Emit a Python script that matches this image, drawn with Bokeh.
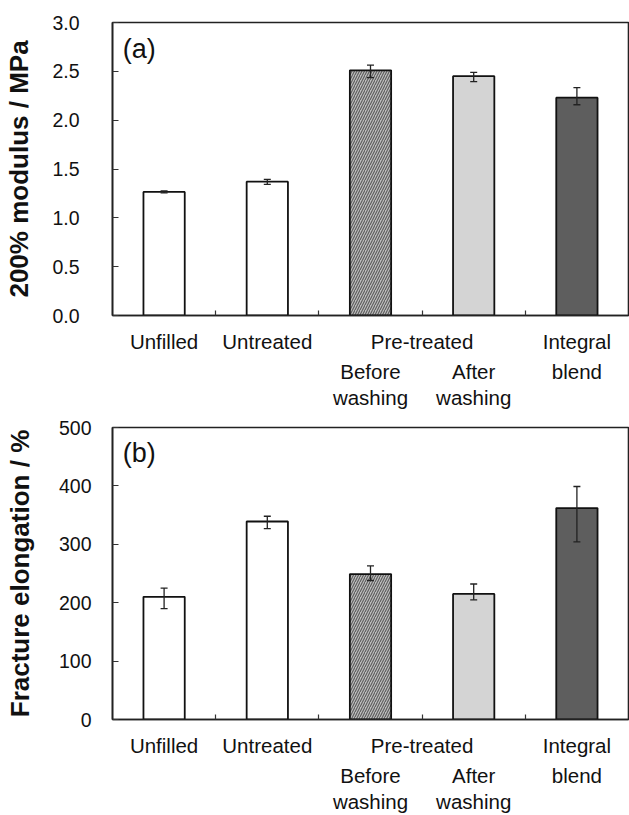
from bokeh.plotting import figure
from bokeh.models import (ColumnDataSource, Whisker, TeeHead, FixedTicker, LinearAxis,
                          Label, Range1d, NumeralTickFormatter)
from bokeh.layouts import column
from bokeh.embed import file_html
from bokeh.resources import INLINE

# ---- data ----
categories = ["Unfilled", "Untreated", "Before washing", "After washing", "Integral blend"]
modulus = [1.265, 1.37, 2.51, 2.45, 2.23]              # 200% modulus / MPa
modulus_upper = [1.275, 1.393, 2.564, 2.49, 2.334]     # error bar ends
modulus_lower = [1.255, 1.343, 2.436, 2.395, 2.158]
elongation = [210, 339, 249, 215, 362]                 # fracture elongation / %
elongation_upper = [225, 348, 263, 232, 399]
elongation_lower = [190, 327, 238, 205, 304]
modulus_ticks = [0, 0.5, 1.0, 1.5, 2.0, 2.5, 3.0]
elongation_ticks = [0, 100, 200, 300, 400, 500]
row1_labels = {1: "Unfilled", 2: "Untreated", 3.5: "Pre-treated", 5: "Integral"}
row2_labels = {3: "Before\nwashing", 4: "After\nwashing", 5: "blend"}

bar_fill = ["white", "white", "#bdbdbd", "#d4d4d4", "#5e5e5e"]
bar_hatch = [" ", " ", "/", " ", " "]

FONT = "Liberation Sans"
TXT = "#111111"


def make_panel(values, upper, lower, ymax, yticks, fmt, ylabel, tag, tag_y, height,
               top_border, bottom_border, ylab_standoff, axlab_standoff):
    xs = list(range(1, len(values) + 1))
    src = ColumnDataSource(dict(
        x=xs, top=values, fill=bar_fill, hatch=bar_hatch, upper=upper, lower=lower,
    ))
    p = figure(width=629, height=height, output_backend="svg", toolbar_location=None,
               x_range=Range1d(0.5, len(values) + 0.5), y_range=Range1d(0, ymax),
               min_border_left=112, min_border_right=1,
               min_border_top=top_border, min_border_bottom=bottom_border)
    p.grid.visible = False
    p.outline_line_color = "#222222"
    p.outline_line_width = 1.6
    p.background_fill_color = "white"
    p.border_fill_color = "white"

    p.vbar(x="x", top="top", width=0.4, bottom=0, source=src, fill_color="fill",
           line_color="#111111", line_width=1.8, hatch_pattern="hatch",
           hatch_color="#5a5a5a", hatch_scale=5, hatch_weight=1.1)

    w = Whisker(base="x", upper="upper", lower="lower", source=src,
                line_color="#222222", line_width=1.3, level="annotation",
                upper_head=TeeHead(size=7, line_color="#222222", line_width=1.3),
                lower_head=TeeHead(size=7, line_color="#222222", line_width=1.3))
    p.add_layout(w)

    # main x axis: first row of labels, boundary ticks drawn as inward minor ticks
    xa = p.xaxis[0]
    xa.ticker = FixedTicker(ticks=list(row1_labels.keys()),
                            minor_ticks=[i + 0.5 for i in xs[:-1]])
    xa.major_label_overrides = row1_labels
    xa.major_tick_line_color = None
    xa.major_tick_in = 0
    xa.major_tick_out = 0
    xa.minor_tick_in = 5
    xa.minor_tick_out = 0
    xa.minor_tick_line_color = "#333333"
    xa.minor_tick_line_width = 1.2
    xa.major_label_standoff = 14
    xa.major_label_text_font = FONT
    xa.major_label_text_font_size = "20.5px"
    xa.major_label_text_color = TXT
    xa.axis_line_color = "#222222"
    xa.axis_line_width = 1.6

    # second and third rows of labels
    la = LinearAxis(ticker=FixedTicker(ticks=list(row2_labels.keys())),
                    major_label_overrides=row2_labels,
                    axis_line_color=None, major_tick_line_color=None,
                    minor_tick_line_color=None, major_tick_in=0, major_tick_out=0,
                    major_label_standoff=4,
                    major_label_text_font=FONT,
                    major_label_text_font_size="20.5px",
                    major_label_text_color=TXT,
                    major_label_text_line_height=1.15)
    p.add_layout(la, "below")

    ya = p.yaxis[0]
    ya.ticker = FixedTicker(ticks=yticks)
    ya.formatter = NumeralTickFormatter(format=fmt)
    ya.major_tick_in = 6
    ya.major_tick_out = 0
    ya.minor_tick_line_color = None
    ya.major_tick_line_color = "#333333"
    ya.major_tick_line_width = 1.2
    ya.axis_line_color = "#222222"
    ya.axis_line_width = 1.6
    ya.major_label_standoff = ylab_standoff
    ya.major_label_text_font = FONT
    ya.major_label_text_font_size = "19.5px"
    ya.major_label_text_color = TXT
    ya.axis_label = ylabel
    ya.axis_label_text_font = FONT
    ya.axis_label_text_font_size = "26px"
    ya.axis_label_text_font_style = "bold"
    ya.axis_label_text_color = TXT
    ya.axis_label_standoff = axlab_standoff

    p.add_layout(Label(x=0.6, y=tag_y, text=tag, text_font=FONT, text_font_size="27px",
                       text_baseline="middle", text_color=TXT))
    return p


pa = make_panel(modulus, modulus_upper, modulus_lower, 3.0, modulus_ticks, "0.0",
                "200% modulus / MPa", "(a)", 2.73, 412, 22, 97, 33, 15)
pb = make_panel(elongation, elongation_upper, elongation_lower, 500, elongation_ticks, "0",
                "Fracture elongation / %", "(b)", 456, 403, 15, 95, 21, 21)

layout = column(pa, pb)
open("out.html", "w").write(file_html(layout, INLINE))
